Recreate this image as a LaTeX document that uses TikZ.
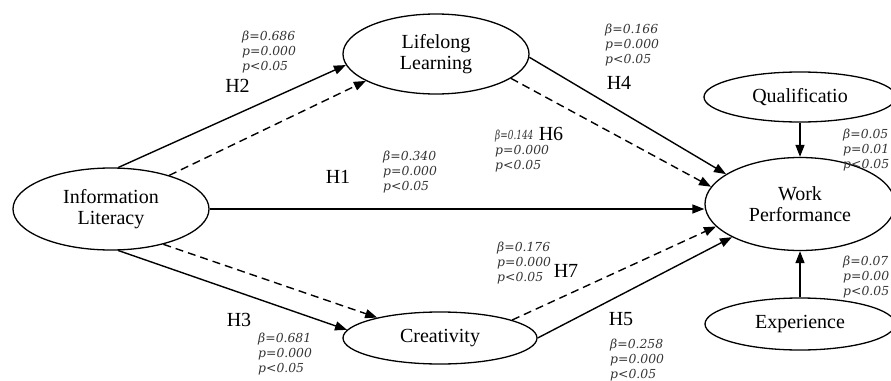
\documentclass[tikz,border=0pt]{standalone}
\usepackage{fontspec}
\setmainfont{Liberation Serif}
\newfontfamily\statfont{DejaVu Serif}
\usetikzlibrary{arrows.meta,shapes.geometric}

\begin{document}
\begin{tikzpicture}[x=1pt,y=-1pt,
  construct/.style={ellipse,draw,line width=1.3pt,inner sep=0pt,align=center,
    font=\fontsize{20}{21}\selectfont},
  effect/.style={line width=1.4pt,-{Triangle[length=12pt,width=9pt]}},
  mediated/.style={effect,dash pattern=on 8pt off 5pt},
  hyp/.style={inner sep=0pt,font=\fontsize{20}{21}\selectfont},
  stat/.style={anchor=north west,inner sep=0pt,align=left,text=black!80,
    font=\statfont\itshape\fontsize{12.4}{15}\selectfont}]
\useasboundingbox (0,0) rectangle (891,380);
\clip (0,0) rectangle (891,380);

% constructs
\node[construct,minimum width=196pt,minimum height=82pt] (IL) at (111,209) {Information\\Literacy};
\node[construct,minimum width=186pt,minimum height=80pt] (LL) at (436,54) {Lifelong\\Learning};
\node[construct,minimum width=194pt,minimum height=52pt] (Cr) at (440,338) {Creativity};
\node[construct,minimum width=190pt,minimum height=93pt] (WP) at (800,204) {Work\\Performance};
\node[construct,minimum width=192pt,minimum height=50pt] (Q) at (800,97) {Qualificatio};
\node[construct,minimum width=190pt,minimum height=52pt] (Ex) at (800,324) {Experience};

% direct paths
\draw[effect] (IL.80) -- (LL.187);
\draw[effect] (IL.-80) -- (Cr.175);
\draw[effect] (IL.east) -- (IL.east -| WP.west);
\draw[effect] (LL.-2) -- (WP.158);
\draw[effect] (Cr.east) -- (WP.206);
\draw[effect] (Q) -- (WP);
\draw[effect] (Ex) -- (WP);

% mediated paths
\draw[mediated] (IL.30) -- (LL.201);
\draw[mediated] (IL.-34) -- (Cr.162);
\draw[mediated] (LL.-18) -- (WP.169);
\draw[mediated] (Cr.14) -- (WP.195.6);

% hypothesis labels
\node[hyp] (h1) at (338,177) {H1};
\node[hyp] (h2) at (237.5,86) {H2};
\node[hyp] (h3) at (239,320) {H3};
\node[hyp] (h4) at (619,83) {H4};
\node[hyp] (h5) at (621,319) {H5};
\node[hyp] (h6) at (551,134) {H6};
\node[hyp] (h7) at (566,271) {H7};

% path coefficients
\node[stat] (s2) at (242,30.5) {β=0.686\\p=0.000\\p<0.05};
\node[stat] (s4) at (605,24) {β=0.166\\p=0.000\\p<0.05};
\node[stat] (s6) at (495,130) {\scalebox{0.72}[1]{β=0.144}\\p=0.000\\p<0.05};
\node[stat] (s1) at (383,151) {β=0.340\\p=0.000\\p<0.05};
\node[stat] (s7) at (497,241.5) {β=0.176\\p=0.000\\p<0.05};
\node[stat] (s5) at (610,339) {β=0.258\\p=0.000\\p<0.05};
\node[stat] (s3) at (258,332.5) {β=0.681\\p=0.000\\p<0.05};
\node[stat] (sq) at (843,129) {β=0.05\\p=0.01\\p<0.05};
\node[stat] (se) at (843,256) {β=0.07\\p=0.00\\p<0.05};
\end{tikzpicture}
\end{document}
